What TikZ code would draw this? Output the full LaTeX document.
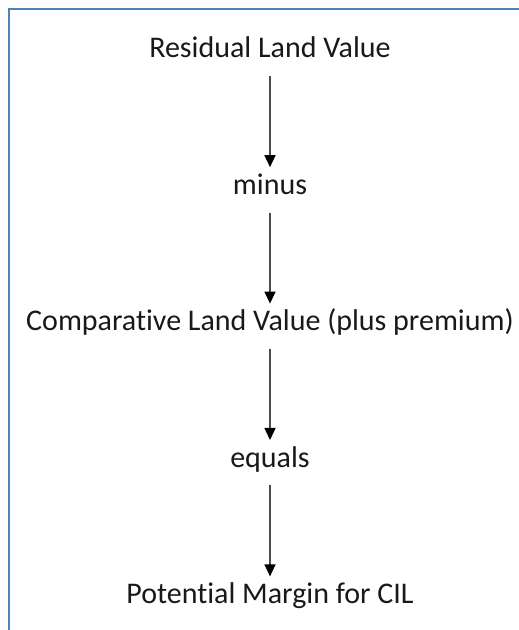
\documentclass[tikz,border=0pt]{standalone}
\usepackage{fontspec}
\setmainfont{Carlito}[Ligatures=NoCommon]
\usepackage{tikz}
\usetikzlibrary{arrows.meta}
\usetikzlibrary{positioning}
\definecolor{frameblue}{RGB}{79,129,189}

\begin{document}
\begin{tikzpicture}[x=1pt, y=1pt,
    step label/.style = {inner sep=0pt, text height=20pt, text depth=6pt,
        font=\fontsize{30}{35}\selectfont, text=black!90},
    flow arrow/.style = {draw=black!70, line width=1.4pt,
        -{Triangle[width=11pt, length=12pt, color=black]},
        shorten <=12pt, shorten >=7pt}]
    \useasboundingbox (0,0) rectangle (519,630);
    \draw[frameblue, line width=1.8pt] (9,0) -- (9,621) -- (519,621);
    \node[step label, anchor=base] (residual) at (270,572) {Residual Land Value};
    \node[step label, below=110pt of residual] (minus) {minus};
    \node[step label, below=110pt of minus] (comparative) {Comparative Land Value (plus premium)};
    \node[step label, below=110pt of comparative] (equals) {equals};
    \node[step label, below=110pt of equals] (margin) {Potential Margin for CIL};
    \draw[flow arrow] (residual) -- (minus);
    \draw[flow arrow] (minus) -- (comparative);
    \draw[flow arrow] (comparative) -- (equals);
    \draw[flow arrow] (equals) -- (margin);
\end{tikzpicture}
\end{document}
